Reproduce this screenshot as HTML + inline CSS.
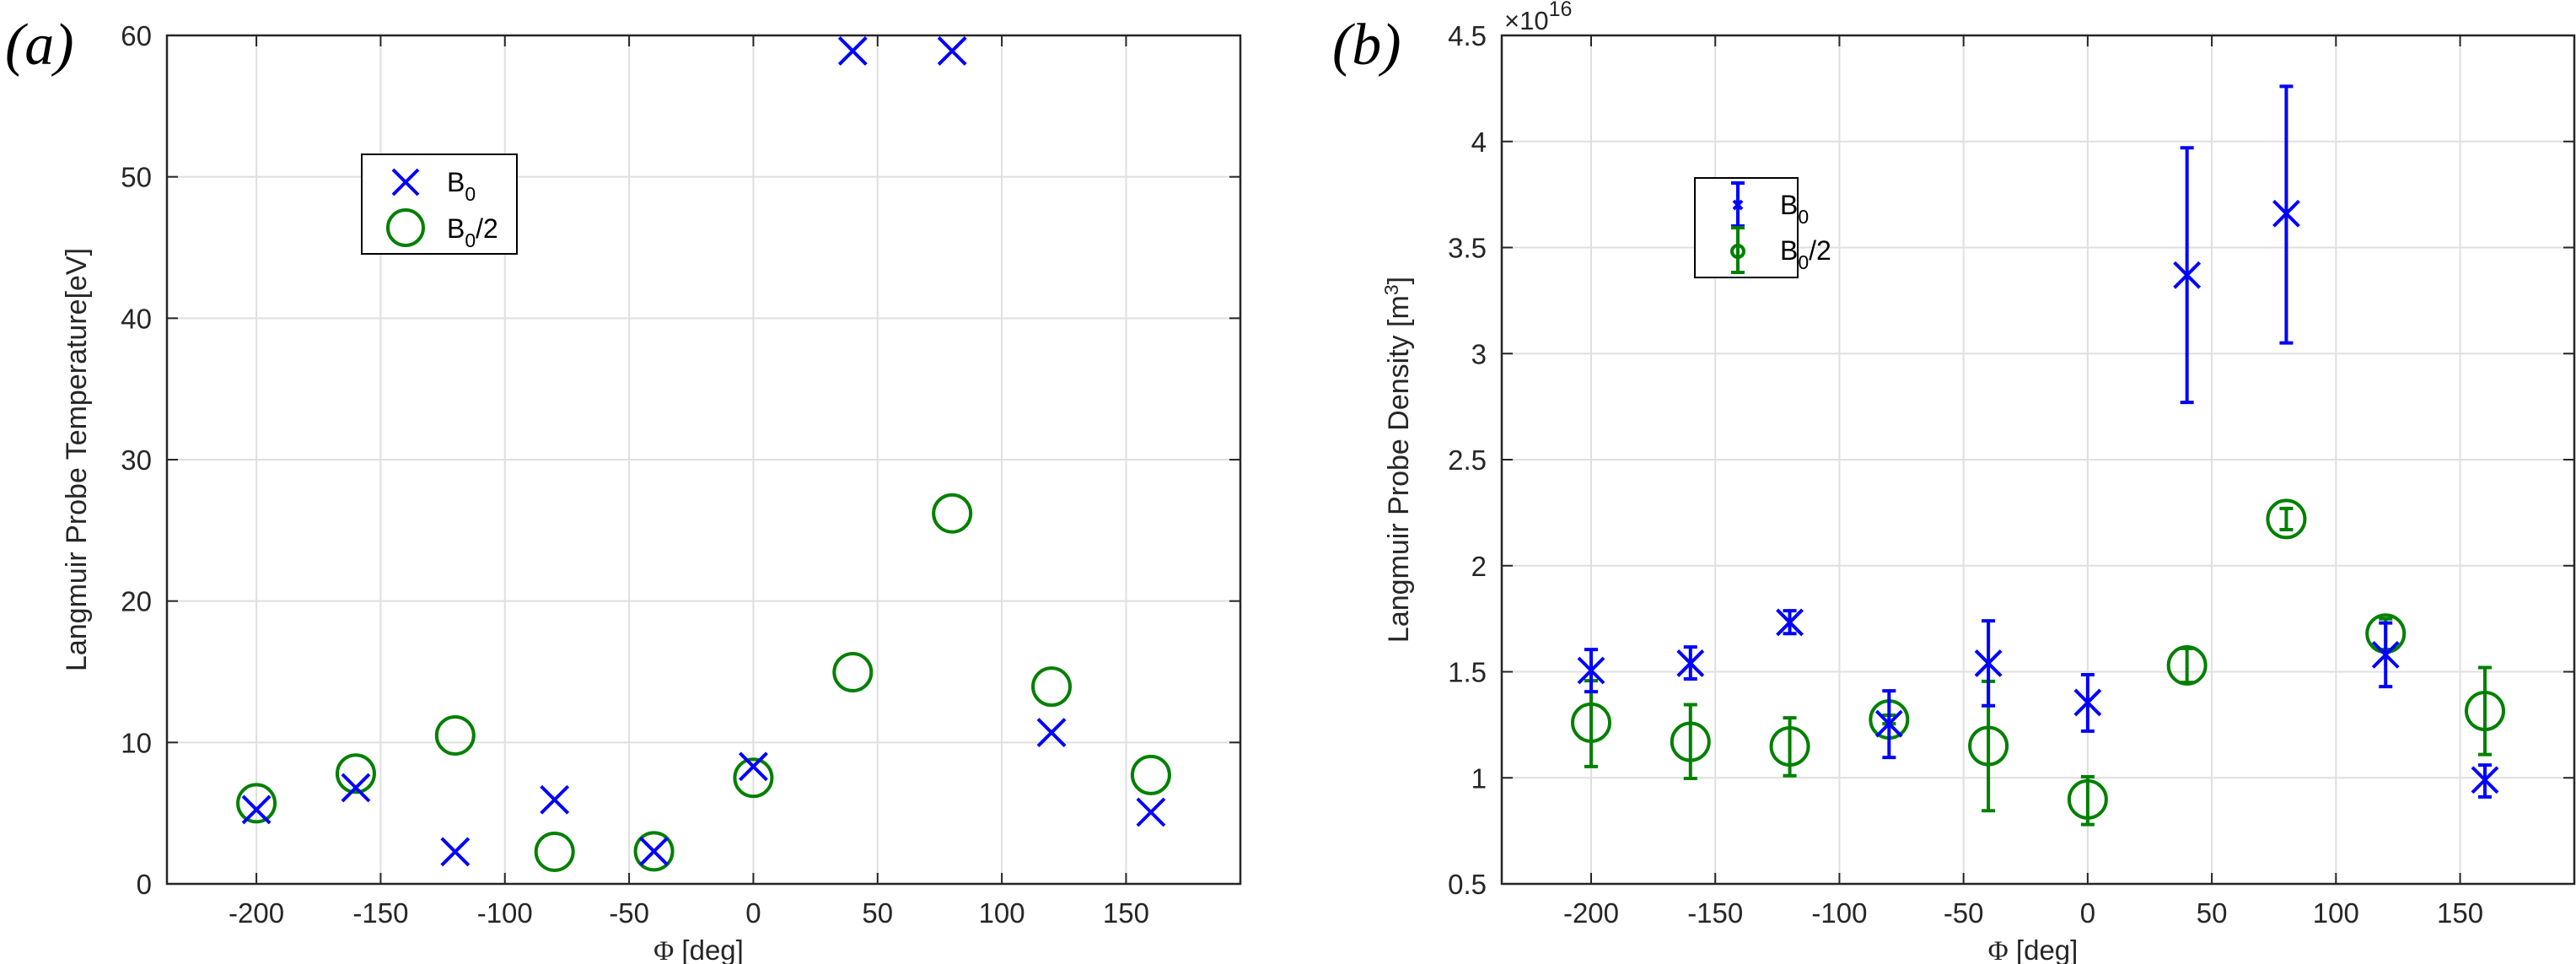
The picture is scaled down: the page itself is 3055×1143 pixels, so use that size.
<!DOCTYPE html>
<html><head><meta charset="utf-8"><style>
html,body{margin:0;padding:0;background:#fff;}
svg{display:block;font-family:"Liberation Sans",sans-serif;}
</style></head><body>
<svg id="fig" width="3055" height="1143" viewBox="0 0 3055 1143" xmlns="http://www.w3.org/2000/svg">
<text x="6" y="76" font-family="Liberation Serif" font-style="italic" font-size="70" fill="#000">(a)</text>
<text x="1580" y="76" font-family="Liberation Serif" font-style="italic" font-size="70" fill="#000">(b)</text>
<g id="ga"></g>
<g id="gb"></g>
</svg>
<script>
const phi = [-200,-160,-120,-80,-40,0,40,80,120,160];
const tempB0 = [5.25,6.8,2.27,5.95,2.3,8.3,58.9,58.9,10.7,5.07];
const tempHalf = [5.7,7.8,10.5,2.27,2.3,7.5,14.97,26.2,13.95,7.7];
const densB0 = [1.506,1.54,1.733,1.255,1.54,1.355,3.37,3.66,1.58,0.99];
const densB0Lo = [1.406,1.466,1.68,1.096,1.34,1.22,2.77,3.05,1.43,0.91];
const densB0Hi = [1.605,1.617,1.788,1.41,1.74,1.486,3.97,4.26,1.73,1.06];
const densHalf = [1.26,1.17,1.148,1.275,1.15,0.898,1.53,2.22,1.68,1.315];
const densHalfLo = [1.053,0.997,1.01,1.255,0.845,0.78,1.45,2.17,1.605,1.11];
const densHalfHi = [1.458,1.345,1.283,1.295,1.455,1.005,1.61,2.27,1.75,1.52];
const xTicks = [-200,-150,-100,-50,0,50,100,150];
const yTicksA = [0,10,20,30,40,50,60];
const yTicksB = [0.5,1,1.5,2,2.5,3,3.5,4,4.5];

const NS="http://www.w3.org/2000/svg";
function mk(parent,tag,attrs){const e=document.createElementNS(NS,tag);for(const k in attrs)e.setAttribute(k,attrs[k]);parent.appendChild(e);return e;}

function axes(g,L,R,T,B,xmin,xmax,ymin,ymax,yTicks,ylabel,ylx){
  const sx=v=>L+(v-xmin)/(xmax-xmin)*(R-L);
  const sy=v=>B-(v-ymin)/(ymax-ymin)*(B-T);
  xTicks.forEach(t=>{const x=sx(t);
    const l=mk(g,'line',{x1:x,x2:x,y1:T,y2:B,stroke:'#dfdfdf','stroke-width':2});
    
    
    mk(g,'line',{x1:x,x2:x,y1:B,y2:B-13,stroke:'#262626','stroke-width':2});
    mk(g,'line',{x1:x,x2:x,y1:T,y2:T+13,stroke:'#262626','stroke-width':2});
    const tx=mk(g,'text',{x:x,y:B+46,'text-anchor':'middle','font-size':33,fill:'#262626'});
    tx.textContent=t;
    
    
  });
  yTicks.forEach(t=>{const y=sy(t);
    const l=mk(g,'line',{x1:L,x2:R,y1:y,y2:y,stroke:'#dfdfdf','stroke-width':2});
    
    
    mk(g,'line',{x1:L,x2:L+13,y1:y,y2:y,stroke:'#262626','stroke-width':2});
    mk(g,'line',{x1:R,x2:R-13,y1:y,y2:y,stroke:'#262626','stroke-width':2});
    const tx=mk(g,'text',{x:L-18,y:y+12,'text-anchor':'end','font-size':33,fill:'#262626'});
    tx.textContent=t;
    
    
  });
  const f=mk(g,'rect',{x:L,y:T,width:R-L,height:B-T,fill:'none',stroke:'#262626','stroke-width':2.5});
  
  
  const xl=mk(g,'text',{x:(L+R)/2-6,y:B+90,'text-anchor':'middle','font-size':33,fill:'#262626'});
  xl.innerHTML='<tspan font-family="Liberation Serif">Φ</tspan> [deg]';
  
  
  const yl=mk(g,'text',{x:0,y:0,'text-anchor':'middle','font-size':34,fill:'#262626',transform:`translate(${ylx},${(T+B)/2}) rotate(-90)`});
  yl.innerHTML=ylabel;
  
  
  return {sx,sy};
}
function cross(g,x,y,h,name){
  const p=mk(g,'path',{d:`M${x-h},${y-h}L${x+h},${y+h}M${x-h},${y+h}L${x+h},${y-h}`,stroke:'#0000ff','stroke-width':4,fill:'none'});
  
  
}
function circ(g,x,y,r,name){
  const c=mk(g,'circle',{cx:x,cy:y,r:r,stroke:'#008000','stroke-width':4,fill:'none'});
  
  
}
function ebar(g,x,y1,y2,col,name){
  const p=mk(g,'path',{d:`M${x},${y1}L${x},${y2}M${x-8},${y1}L${x+8},${y1}M${x-8},${y2}L${x+8},${y2}`,stroke:col,'stroke-width':4,fill:'none'});
  
  
}

// Panel a
const ga=document.getElementById('ga');
const A=axes(ga,198,1471,42,1048,-236,196,0,60,yTicksA,'Langmuir Probe Temperature[eV]',102);
phi.forEach((p,i)=>{circ(ga,A.sx(p),A.sy(tempHalf[i]),22,'b0-half-marker');});
phi.forEach((p,i)=>{cross(ga,A.sx(p),A.sy(tempB0[i]),16,'b0-marker');});
const la=mk(ga,'g',{});


mk(la,'rect',{x:429,y:183,width:184,height:118,fill:'#fff',stroke:'#000','stroke-width':2});
cross(la,481,216,15,'legend-b0-marker');
circ(la,481,270,21,'legend-b0-half-marker');
const ta=mk(la,'text',{x:530,y:227,'font-size':32,fill:'#000'});
ta.innerHTML='B<tspan dy="11" font-size="23">0</tspan>';
const tb=mk(la,'text',{x:530,y:282,'font-size':32,fill:'#000'});
tb.innerHTML='B<tspan dy="11" font-size="23">0</tspan><tspan dy="-11">/2</tspan>';

// Panel b
const gb=document.getElementById('gb');
const Bx=axes(gb,1781,3053,42,1048,-236,196,0.5,4.5,yTicksB,'Langmuir Probe Density [m<tspan dy="-12" font-size="23">3</tspan><tspan dy="12">]</tspan>',1670);
const ex=mk(gb,'text',{x:1784,y:35,'font-size':31,fill:'#262626'});
ex.innerHTML='×10<tspan dy="-16" font-size="25">16</tspan>';


phi.forEach((p,i)=>{const x=Bx.sx(p);
  ebar(gb,x,Bx.sy(densHalfLo[i]),Bx.sy(densHalfHi[i]),'#008000','b0-half-errorbar');
  circ(gb,x,Bx.sy(densHalf[i]),22,'b0-half-marker');});
phi.forEach((p,i)=>{const x=Bx.sx(p);
  ebar(gb,x,Bx.sy(densB0Lo[i]),Bx.sy(densB0Hi[i]),'#0000ff','b0-errorbar');
  cross(gb,x,Bx.sy(densB0[i]),15,'b0-marker');});
const lb=mk(gb,'g',{});


mk(lb,'rect',{x:2010,y:211,width:122,height:118,fill:'#fff',stroke:'#000','stroke-width':2});
ebar(lb,2061,217,268,'#0000ff','legend-b0-errorbar');
cross(lb,2061,243,5,'legend-b0-marker');
ebar(lb,2061,270,323,'#008000','legend-b0-half-errorbar');
circ(lb,2061,298,7,'legend-b0-half-marker');
const tc=mk(lb,'text',{x:2111,y:254,'font-size':32,fill:'#000'});
tc.innerHTML='B<tspan dy="11" font-size="23">0</tspan>';
const td=mk(lb,'text',{x:2111,y:308,'font-size':32,fill:'#000'});
td.innerHTML='B<tspan dy="11" font-size="23">0</tspan><tspan dy="-11">/2</tspan>';
</script>
</body></html>
